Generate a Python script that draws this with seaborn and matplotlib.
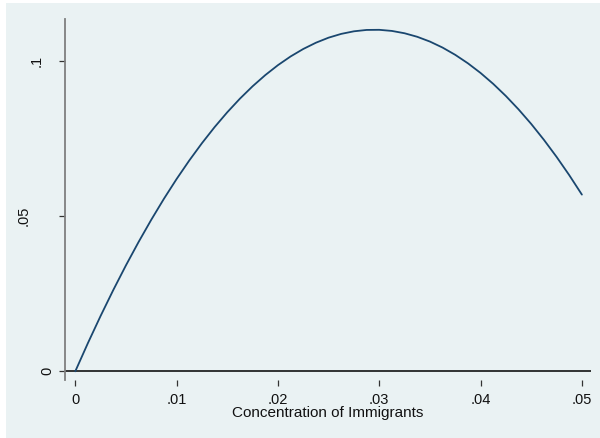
import numpy as np
import pandas as pd
import matplotlib
matplotlib.use("Agg")
import matplotlib.pyplot as plt
import matplotlib.transforms as mtransforms
from matplotlib.patches import Rectangle
import seaborn as sns

# ---- data ----
concentration = [0.0, 0.00125, 0.0025, 0.00375, 0.005, 0.00625, 0.0075, 0.00875,
                 0.01, 0.01125, 0.0125, 0.01375, 0.015, 0.01625, 0.0175, 0.01875,
                 0.02, 0.02125, 0.0225, 0.02375, 0.025, 0.02625, 0.0275, 0.02875,
                 0.03, 0.03125, 0.0325, 0.03375, 0.035, 0.03625, 0.0375, 0.03875,
                 0.04, 0.04125, 0.0425, 0.04375, 0.045, 0.04625, 0.0475, 0.04875, 0.05]
effect = [0.0, 0.00914, 0.01788, 0.02623, 0.03419, 0.04174, 0.04890, 0.05567,
          0.06204, 0.06801, 0.07359, 0.07878, 0.08357, 0.08796, 0.09195, 0.09555,
          0.09876, 0.10157, 0.10398, 0.10600, 0.10763, 0.10885, 0.10968, 0.11012,
          0.11016, 0.10980, 0.10905, 0.10791, 0.10637, 0.10443, 0.10209, 0.09936,
          0.09624, 0.09272, 0.08880, 0.08449, 0.07979, 0.07468, 0.06918, 0.06329, 0.05700]
xticks = [0, 0.01, 0.02, 0.03, 0.04, 0.05]
xtick_labels = ["0", ".01", ".02", ".03", ".04", ".05"]
yticks = [0, 0.05, 0.1]
ytick_labels = ["0", ".05", ".1"]
x_title = "Concentration of Immigrants"

df = pd.DataFrame({"x": concentration, "y": effect})

sns.set_theme(style="white")
plt.rcParams["font.family"] = ["Liberation Sans", "DejaVu Sans"]

BG = "#EAF2F3"
fig = plt.figure(figsize=(6.0, 4.38), dpi=100, facecolor="white")
fig.patches.append(Rectangle((6 / 600, 0), 1, 1 - 3 / 438, transform=fig.transFigure,
                             facecolor=BG, edgecolor="none", zorder=-10))
ax = fig.add_axes([65 / 600, (438 - 380) / 438, 526 / 600, 361 / 438])
ax.set_facecolor(BG)

sns.lineplot(data=df, x="x", y="y", ax=ax, color="#1a476f", linewidth=1.3,
             estimator=None, sort=False)
ax.axhline(0, color="black", linewidth=1.1, zorder=1)

ax.set_xlim(-0.001017, 0.0509)
ax.set_ylim(-0.00281, 0.11365)

for s in ["top", "right", "bottom"]:
    ax.spines[s].set_visible(False)
ax.spines["left"].set_color("#7f7f7f")
ax.spines["left"].set_linewidth(1.3)

ax.set_xticks(xticks)
ax.set_xticklabels(xtick_labels, fontsize=10.5, color="#111111")
ax.set_yticks(yticks)
ax.set_yticklabels(ytick_labels, fontsize=10.5, color="#111111", rotation=90,
                   va="center", ha="right")
ax.tick_params(axis="x", bottom=True, length=4, width=0.9, color="#333333", pad=5)
ax.tick_params(axis="y", left=True, length=4, width=0.9, color="#333333", pad=3.5)

# Stata-like staggered placement of rotated y labels
offsets = {"0": 0, ".05": -24, ".1": -11}
for lab in ax.get_yticklabels():
    dx = offsets.get(lab.get_text(), 0)
    lab.set_transform(lab.get_transform() +
                      mtransforms.ScaledTranslation(dx / 100, 0, fig.dpi_scale_trans))

ax.set_xlabel(x_title, fontsize=11, color="#111111", labelpad=0)
ax.set_ylabel("")

fig.savefig("out.png", dpi=100, facecolor=fig.get_facecolor())
